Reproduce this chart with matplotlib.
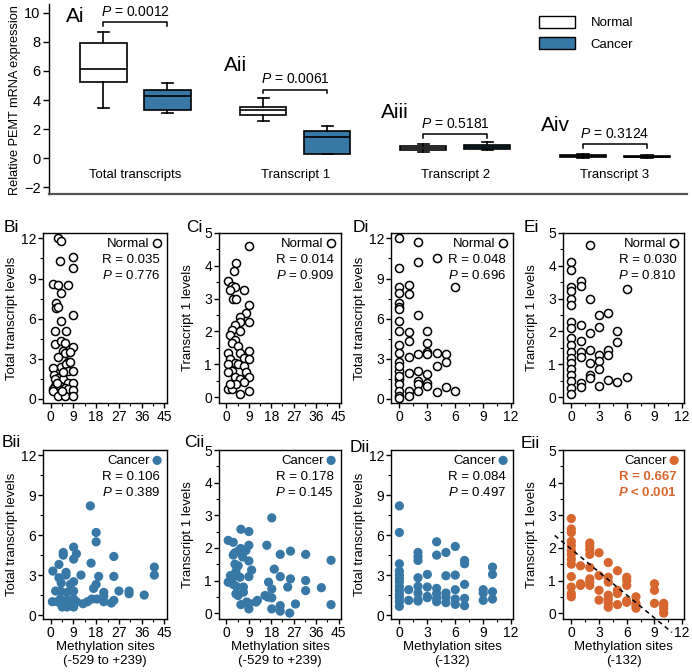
import matplotlib
matplotlib.use("Agg")
import matplotlib.pyplot as plt
import numpy as np
from matplotlib.patches import Patch
from matplotlib.ticker import MultipleLocator

plt.rcParams['font.family'] = ['Liberation Sans', 'DejaVu Sans']
plt.rcParams['font.size'] = 9.5
plt.rcParams['mathtext.fontset'] = 'custom'
plt.rcParams['mathtext.it'] = 'Liberation Sans:italic'
plt.rcParams['mathtext.rm'] = 'Liberation Sans'
plt.rcParams['mathtext.bf'] = 'Liberation Sans:bold'
plt.rcParams['mathtext.bfit'] = 'Liberation Sans:italic:bold'

# ---------------- data: panel A (box plots) ----------------
groups = ['Total transcripts', 'Transcript 1', 'Transcript 2', 'Transcript 3']
group_tags = ['Ai', 'Aii', 'Aiii', 'Aiv']
p_values = ['0.0012', '0.0061', '0.5181', '0.3124']
# whislo, q1, median, q3, whishi
normal_stats = [[3.46, 5.21, 6.12, 7.92, 8.65],
                [2.59, 3.00, 3.30, 3.53, 4.14],
                [0.46, 0.55, 0.70, 0.86, 0.96],
                [0.03, 0.10, 0.15, 0.21, 0.30]]
cancer_stats = [[3.09, 3.34, 4.28, 4.69, 5.16],
                [0.27, 0.32, 1.46, 1.89, 2.23],
                [0.55, 0.66, 0.80, 0.93, 1.11],
                [0.04, 0.09, 0.12, 0.15, 0.20]]
bracket_top = [9.35, 4.71, 1.64, 0.96]
bracket_leg = [9.12, 4.48, 1.37, 0.68]

# ---------------- data: scatter panels ----------------
Bi_x = [2.75, 4, 8.75, 8.75, 3.9, 1, 3.1, 6.9, 4, 2.1, 2.1, 3.1, 8.75, 4, 1.9, 6, 1.9, 4.1, 5.75, 8.75,
        4.75, 5.6, 7.5, 3.1, 6.9, 4.1, 1, 5.9, 6.9, 8.75, 1.25, 2.9, 5, 1.9, 6.9, 8.75, 1.9, 3.75, 5.6, 1,
        6.9, 8.75, 1, 3.1, 5.6, 8.75, 4.4, 2.5, 5, 7.5]
Bi_y = [12.0, 11.8, 10.6, 9.8, 10.3, 8.6, 8.5, 8.5, 7.9, 7.2, 6.8, 6.9, 6.3, 5.8, 5.1, 5.1, 4.1, 4.3, 4.2, 3.9,
        3.6, 3.4, 3.5, 3.1, 2.8, 2.4, 2.3, 2.6, 2.1, 2.1, 1.8, 1.6, 1.5, 1.5, 1.2, 1.2, 1.0, 1.0, 0.85, 0.75,
        0.75, 0.65, 0.6, 0.25, 0.2, 0.2, 0.6, 1.2, 2.0, 2.8]

Bii_x = [15.7, 18, 18, 9.1, 5, 5, 10.2, 9.1, 25, 16, 3.3, 0.9, 6.1, 6.1, 12, 41, 41, 3.3, 19, 25,
         4.2, 9.1, 7.8, 18, 17, 2, 3.9, 6.5, 9.1, 21, 27, 31, 31, 37, 21, 21, 3.9, 6.5, 9.1, 0.7,
         2.6, 5.2, 8.2, 16.3, 14.6, 12.8, 10.2, 4.6, 9.1, 6.5, 25, 24, 18.3]
Bii_y = [8.2, 6.2, 5.5, 5.1, 4.7, 4.5, 4.6, 4.2, 4.4, 3.9, 3.8, 3.3, 3.2, 3.0, 3.0, 3.6, 3.0, 2.8, 2.9, 2.9,
         2.4, 2.5, 2.3, 2.3, 2.0, 1.8, 1.8, 1.7, 1.8, 1.7, 1.8, 1.8, 1.6, 1.5, 1.4, 1.0, 1.2, 1.1, 1.2, 1.0,
         1.0, 0.85, 1.0, 1.2, 1.0, 0.85, 1.0, 0.6, 0.6, 0.6, 1.1, 0.9, 1.2]

Ci_x = [9, 3.7, 2.9, 0.7, 2.4, 3.3, 1.6, 6.9, 2.7, 4, 9, 7.7, 5.6, 9, 5.6, 3.3, 2.4, 5.6, 1.6, 3.3,
        2.4, 4.7, 0.7, 5.6, 9, 6.9, 9, 1.6, 3.3, 0.7, 4.7, 6.9, 2.4, 0.7, 7.7, 3.3, 9, 5.6, 6.9, 0.7,
        2.4, 9, 5.6, 4, 1.6]
Ci_y = [4.6, 4.1, 3.85, 3.55, 3.4, 3.35, 3.25, 3.25, 3.0, 3.0, 2.8, 2.55, 2.45, 2.3, 2.3, 2.2, 2.05, 2.0, 1.9, 1.75,
        1.65, 1.55, 1.35, 1.35, 1.4, 1.2, 1.15, 1.15, 1.05, 1.0, 1.0, 0.95, 0.8, 0.75, 0.75, 0.6, 0.6, 0.55, 0.45, 0.25,
        0.25, 0.2, 0.1, 0.4, 0.4]

Cii_x = [18.2, 5.8, 9, 0.7, 2.7, 16.2, 25.7, 5.7, 9, 7.8, 3.4, 4.7, 21.6, 31.8, 2.7, 6.5, 42, 9, 3.4, 4.7,
         19.2, 10.1, 3.8, 4, 9, 21.6, 25.7, 0.7, 5.4, 2.0, 16.9, 31.8, 2.7, 4, 24.6, 38.1, 6.8, 18.2, 31.8, 3.8,
         4.7, 6.8, 15.5, 16.6, 18.2, 12.4, 11.9, 5.8, 9, 8.1, 9, 18.2, 21.6, 21.6, 27.7, 25.4, 42, 1.4, 1.6]
Cii_y = [2.92, 2.57, 2.5, 2.23, 2.17, 2.08, 1.9, 1.98, 2.08, 1.92, 1.85, 1.9, 1.8, 1.8, 1.78, 1.72, 1.62, 1.6, 1.5, 1.45,
         1.35, 1.32, 1.28, 1.15, 1.12, 1.12, 1.05, 0.95, 1.1, 1.05, 0.95, 1.0, 0.88, 0.82, 0.8, 0.78, 0.8, 0.74, 0.69, 0.59,
         0.54, 0.64, 0.54, 0.49, 0.47, 0.39, 0.34, 0.26, 0.3, 0.34, 0.13, 0.13, 0.23, 0.06, 0.28, 0.0, 0.26, 0.95, 1.15]

Di_x = [0, 2, 4, 2, 0, 0, 1, 0, 1, 6, 0, 0, 0, 2, 0, 0, 1, 3, 1, 3,
        0, 3, 2, 4, 5, 0, 3, 1, 5, 0, 4, 0, 1, 2, 3, 0, 2, 3, 0, 2,
        3, 5, 1, 2, 4, 6, 0, 0, 1, 0, 0, 0]
Di_y = [12.0, 11.75, 10.5, 10.25, 9.75, 8.4, 8.5, 7.9, 7.85, 8.4, 7.2, 6.9, 6.75, 6.25, 5.8, 5.1, 5.0, 5.1, 4.3, 4.2,
        4.05, 3.5, 3.35, 3.4, 3.35, 3.4, 3.35, 3.1, 2.8, 2.8, 2.45, 2.1, 1.95, 2.1, 1.9, 1.5, 1.35, 1.2, 1.15, 1.1,
        0.95, 0.9, 0.6, 0.6, 0.55, 0.6, 0.6, 0.25, 0.25, 0.05, 2.45, 1.7]

Dii_x = [0, 0, 4, 6, 5, 2, 4, 2, 2, 7, 7, 0, 10, 0, 3, 0, 6, 5, 10, 2,
         0, 0, 7, 0, 3, 2, 4, 6, 1, 9, 0, 9, 10, 2, 5, 4, 0, 3, 4, 5,
         0, 2, 7, 1, 6, 10, 9, 4, 5, 6, 0, 7, 0, 2, 3]
Dii_y = [8.2, 6.2, 5.5, 5.15, 4.7, 4.7, 4.5, 4.4, 4.1, 4.1, 3.85, 3.85, 3.6, 3.3, 3.05, 3.0, 3.0, 2.95, 3.05, 2.8,
         2.75, 2.5, 2.3, 2.15, 2.1, 2.15, 2.0, 1.9, 1.9, 1.9, 1.85, 1.65, 1.75, 1.65, 1.65, 1.6, 1.55, 1.3, 1.25, 1.35,
         1.3, 1.15, 1.25, 1.1, 1.2, 1.2, 1.1, 1.0, 0.93, 0.8, 1.0, 0.7, 0.65, 1.05, 1.4]

Ei_x = [2, 0, 0, 1, 1, 0, 0, 6, 0, 2, 0, 3, 4, 0, 1, 3, 0, 2, 5, 0,
        1, 5, 0, 2, 4, 0, 1, 3, 4, 0, 1, 3, 2, 0, 0, 3, 0, 2, 2, 6,
        4, 5, 1, 0, 3, 1, 0, 0]
Ei_y = [4.63, 4.13, 3.86, 3.55, 3.38, 3.36, 3.23, 3.28, 3.0, 3.0, 2.8, 2.5, 2.56, 2.3, 2.2, 2.15, 2.12, 1.95, 2.0, 1.8,
        1.7, 1.68, 1.58, 1.43, 1.43, 1.38, 1.36, 1.28, 1.28, 1.2, 1.23, 1.1, 1.03, 1.03, 0.86, 0.85, 0.68, 0.68, 0.57, 0.6,
        0.53, 0.45, 0.42, 0.5, 0.35, 0.3, 0.28, 0.1]

Eii_x = [0] * 13 + [2] * 8 + [3, 1, 4, 3, 4, 4, 5, 5, 5, 6, 6, 6, 7, 7, 7, 9, 9, 9, 10, 10, 10, 1, 1, 3, 3, 4, 4, 4, 4, 5, 6, 6, 7, 10]
Eii_y = [2.9, 2.58, 2.47, 2.2, 2.07, 1.92, 1.8, 1.65, 1.5, 1.12, 0.8, 0.6, 0.5,
         2.15, 2.05, 1.95, 1.8, 1.4, 1.05, 0.95, 0.85,
         1.85, 1.45, 1.55, 1.15, 1.1, 0.95, 1.3, 0.7, 0.6, 1.1, 1.0, 0.85, 0.5, 0.3, 0.15, 0.9, 0.7, 0.3, 0.3, 0.13, 0.0,
         0.9, 0.85, 0.7, 0.4, 0.55, 0.43, 0.3, 0.18, 0.26, 0.38, 0.33, 0.23, 0.23]
# regression line shown in Eii
fit_slope = -0.234
fit_intercept = 1.96
fit_x_range = [-1.8, 10.9]

R_values = {'Bi': '0.035', 'Ci': '0.014', 'Di': '0.048', 'Ei': '0.030',
            'Bii': '0.106', 'Cii': '0.178', 'Dii': '0.084', 'Eii': '0.667'}
P_values = {'Bi': '= 0.776', 'Ci': '= 0.909', 'Di': '= 0.696', 'Ei': '= 0.810',
            'Bii': '= 0.389', 'Cii': '= 0.145', 'Dii': '= 0.497', 'Eii': '< 0.001'}

BLUE = '#3778a6'
ORANGE = '#d8672f'

W, H = 692, 672
fig = plt.figure(figsize=(W / 100, H / 100), dpi=100)


def fx(px):
    return px / W


def fy(py):
    return 1 - py / H


# ---------------- Panel A ----------------
axA = fig.add_axes([fx(49), fy(194), fx(687) - fx(49), fy(4) - fy(194)])
gpos = np.arange(len(groups))
off = 0.2
bw = 0.29


def mk(s):
    return dict(whislo=s[0], q1=s[1], med=s[2], q3=s[3], whishi=s[4], fliers=[])


common = dict(widths=bw, patch_artist=True, showfliers=False, capwidths=0.07,
              medianprops=dict(color='black', linewidth=1.2),
              whiskerprops=dict(color='black', linewidth=1.2),
              capprops=dict(color='black', linewidth=1.2))
axA.bxp([mk(s) for s in normal_stats], positions=gpos - off,
        boxprops=dict(facecolor='white', edgecolor='black', linewidth=1.2), **common)
axA.bxp([mk(s) for s in cancer_stats], positions=gpos + off,
        boxprops=dict(facecolor=BLUE, edgecolor='black', linewidth=1.2), **common)

axA.set_xlim(-0.54, 3.45)
axA.set_ylim(-2.45, 10.6)
axA.set_yticks([-2, 0, 2, 4, 6, 8, 10])
axA.set_xticks([])
axA.spines['top'].set_visible(False)
axA.spines['right'].set_visible(False)
axA.spines['bottom'].set_color('#555555')
axA.spines['bottom'].set_linewidth(1.6)
axA.spines['left'].set_linewidth(1.0)
axA.tick_params(axis='y', direction='out', length=4, width=1, labelsize=10.5, pad=2)

tag_dx = -0.375
tag_y = [9.76, 6.35, 3.14, 2.25]
cat_y = -1.16
for i in range(len(groups)):
    x1, x2 = gpos[i] - off, gpos[i] + off
    axA.plot([x1, x1, x2, x2], [bracket_leg[i], bracket_top[i], bracket_top[i], bracket_leg[i]],
             color='black', lw=1.1)
    axA.annotate('$P$ = ' + p_values[i], xy=(gpos[i], bracket_top[i]), xytext=(0, 2.5),
                 textcoords='offset points', ha='center', va='bottom', fontsize=10)
    axA.text(gpos[i] + tag_dx, tag_y[i], group_tags[i], ha='center', va='center', fontsize=15)
    axA.text(gpos[i], cat_y, groups[i], ha='center', va='center', fontsize=9.5)

fig.text(fx(15), fy(100), 'Relative PEMT mRNA expression', rotation=90, ha='center', va='center', fontsize=9.2)

handles = [Patch(facecolor='white', edgecolor='black', linewidth=1.0, label='Normal'),
           Patch(facecolor=BLUE, edgecolor='black', linewidth=1.0, label='Cancer')]
fig.legend(handles=handles, loc='upper left', bbox_to_anchor=(fx(539), fy(16)), frameon=False,
           borderpad=0, borderaxespad=0, handlelength=2.7, handleheight=1.0, labelspacing=0.6,
           handletextpad=1.2, fontsize=9.5)

# ---------------- Scatter panels ----------------
col_left = {'B': 43, 'C': 219, 'D': 391, 'E': 563}
col_w = {'B': 124, 'C': 122, 'D': 122, 'E': 121}
row_top = {'i': 233, 'ii': 450}
row_bot = {'i': 403, 'ii': 619}

panels = [
    ('Bi', Bi_x, Bi_y, 'normal'), ('Ci', Ci_x, Ci_y, 'normal'),
    ('Di', Di_x, Di_y, 'normal'), ('Ei', Ei_x, Ei_y, 'normal'),
    ('Bii', Bii_x, Bii_y, 'cancer'), ('Cii', Cii_x, Cii_y, 'cancer'),
    ('Dii', Dii_x, Dii_y, 'cancer'), ('Eii', Eii_x, Eii_y, 'cancer'),
]
tag_pos = {'Bi': (4, 232), 'Ci': (186, 232), 'Di': (353, 232), 'Ei': (524, 232),
           'Bii': (2, 447), 'Cii': (184, 447), 'Dii': (350, 452), 'Eii': (521, 448)}

for name, xs, ys, kind in panels:
    col = name[0]
    row = name[1:]
    l = col_left[col]
    w = col_w[col]
    t = row_top[row]
    b = row_bot[row]
    ax = fig.add_axes([fx(l), fy(b), w / W, (b - t) / H])
    color = ORANGE if name == 'Eii' else BLUE
    if kind == 'normal':
        sc = ax.scatter(xs, ys, s=34, facecolor='white', edgecolor='black', linewidth=1.1, zorder=3, clip_on=False)
    else:
        sc = ax.scatter(xs, ys, s=44, facecolor=color, edgecolor='none', zorder=3, clip_on=False)

    if col in ('B', 'C'):
        ax.set_xlim(-3, 46)
        ax.xaxis.set_major_locator(MultipleLocator(9))
        ax.xaxis.set_minor_locator(MultipleLocator(4.5))
        xlab = 'Methylation sites\n(-529 to +239)'
    else:
        ax.set_xlim(-0.9, 12.2)
        ax.xaxis.set_major_locator(MultipleLocator(3))
        ax.xaxis.set_minor_locator(MultipleLocator(1.5))
        xlab = 'Methylation sites\n(-132)'
    if col in ('B', 'D'):
        ax.set_ylim(-0.3, 12.4)
        ax.yaxis.set_major_locator(MultipleLocator(3))
        ax.yaxis.set_minor_locator(MultipleLocator(1.5))
        ylab = 'Total transcript levels'
    else:
        ax.set_ylim(-0.18, 5.0)
        ax.yaxis.set_major_locator(MultipleLocator(1))
        ax.yaxis.set_minor_locator(MultipleLocator(0.5))
        ylab = 'Transcript 1 levels'
    ax.set_ylabel(ylab, fontsize=9.5)
    ax.yaxis.set_label_coords(-25 / w, 0.5)
    if row == 'ii':
        ax.set_xlabel(xlab, fontsize=9.5, linespacing=1.25)
        ax.xaxis.set_label_coords(0.5, -22 / (b - t))
    for sp in ax.spines.values():
        sp.set_linewidth(1.0)
    ax.tick_params(which='major', direction='out', length=3.5, width=1, labelsize=10, pad=1.5)
    ax.tick_params(which='minor', direction='out', length=2, width=0.8)

    if name == 'Eii':
        fx_line = np.array(fit_x_range)
        ax.plot(fx_line, fit_intercept + fit_slope * fx_line, ls=(0, (3, 2.5)), color='black', lw=1.1,
                clip_on=False, zorder=4)

    lab = 'Normal' if kind == 'normal' else 'Cancer'
    ax.legend(handles=[sc], labels=[lab], loc='upper right', markerfirst=False, frameon=False,
              borderpad=0.15, borderaxespad=0.2, handlelength=0.8, handletextpad=0.15, fontsize=9.5)
    if name == 'Eii':
        ax.annotate('R = ' + R_values[name], xy=(1, 1), xycoords='axes fraction', xytext=(-5, -19.5),
                    textcoords='offset points', ha='right', va='center', color=ORANGE,
                    fontweight='bold', fontsize=9.5)
        ax.annotate('$\\mathbfit{P}$ ' + P_values[name], xy=(1, 1),
                    xycoords='axes fraction', xytext=(-5, -30.5), textcoords='offset points',
                    ha='right', va='center', color=ORANGE, fontweight='bold', fontsize=9.5)
    else:
        ax.annotate('R = ' + R_values[name], xy=(1, 1), xycoords='axes fraction', xytext=(-5, -19.5),
                    textcoords='offset points', ha='right', va='center', fontsize=9.5)
        ax.annotate('$P$ ' + P_values[name], xy=(1, 1), xycoords='axes fraction', xytext=(-5, -30.5),
                    textcoords='offset points', ha='right', va='center', fontsize=9.5)

    tx, ty = tag_pos[name]
    fig.text(fx(tx), fy(ty), name, ha='left', va='baseline', fontsize=12.5)

fig.savefig('out.png', dpi=100)
